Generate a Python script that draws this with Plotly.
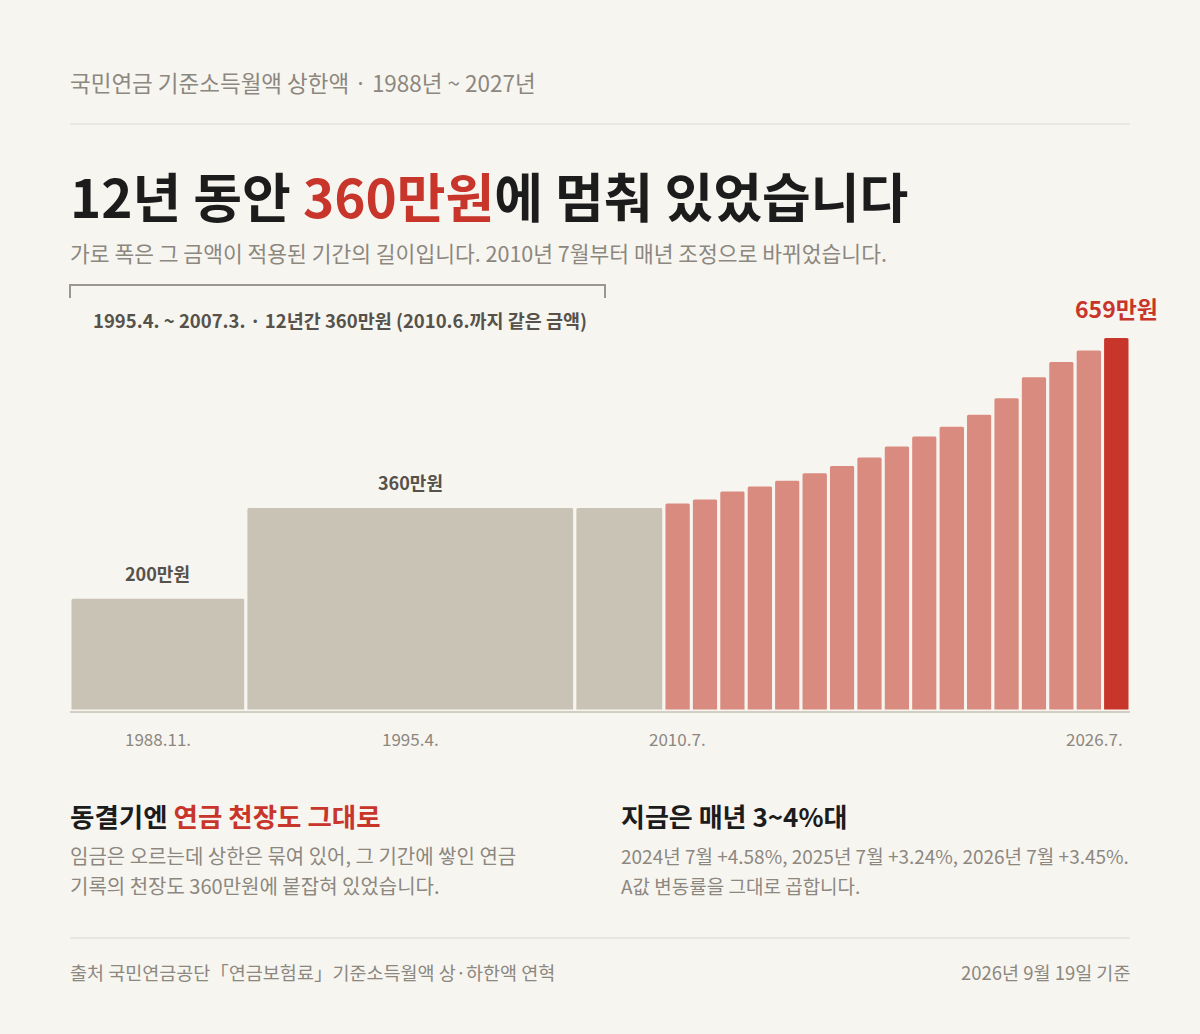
import plotly.graph_objects as go

# 기준소득월액 상한액 (만원) - 적용 시작 연.월
start_year = [1988, 1995, 2007, 2010, 2011, 2012, 2013, 2014, 2015, 2016,
              2017, 2018, 2019, 2020, 2021, 2022, 2023, 2024, 2025, 2026]
start_month = [11, 4, 4, 7, 7, 7, 7, 7, 7, 7, 7, 7, 7, 7, 7, 7, 7, 7, 7, 7]
end_year, end_month = 2027, 7
cap_values = [200, 360, 360, 368, 375, 389, 398, 408, 421, 434,
              449, 468, 486, 503, 524, 553, 590, 617, 637, 659]
era = ["frozen"] * 3 + ["annual"] * 16 + ["latest"]

tick_labels = ["1988.11.", "1995.4.", "2010.7.", "2026.7."]
tick_bars = [0, 1, 3, 19]
labelled_bars = [0, 1, 19]

BG = "#f7f5f0"
GRAY_BAR = "#c9c3b5"
RED_BAR = "#d98b7f"
RED_DARK = "#c8352b"
INK = "#1c1c1c"
MUTED = "#8c877f"
LABEL = "#56524b"
RULE = "#dcd8cf"
FONT = "Noto Sans CJK KR"

era_colors = {"frozen": GRAY_BAR, "annual": RED_BAR, "latest": RED_DARK}


def month_index(y, m):
    return (y - start_year[0]) * 12 + (m - start_month[0])


starts = [month_index(y, m) for y, m in zip(start_year, start_month)]
ends = starts[1:] + [month_index(end_year, end_month)]
widths = [e - s for s, e in zip(starts, ends)]
centers = [s + w / 2 for s, w in zip(starts, widths)]

# page geometry (pixels)
W, H = 1200, 1034
L, R = 70, 1130
TOP, BOT = 290, 711


def py(p):
    return (BOT - p) / (BOT - TOP)


def px(p):
    return (p - L) / (R - L)


fig = go.Figure(
    go.Bar(
        x=centers,
        y=cap_values,
        width=widths,
        marker=dict(
            color=[era_colors[e] for e in era],
            line=dict(color=BG, width=3),
            cornerradius=3,
        ),
        hovertemplate="%{y}만원<extra></extra>",
    )
)

ann = []


def text(x, y, s, size, color=MUTED, anchor="left", bold=False):
    ann.append(dict(
        x=x, y=y, xref="paper", yref="paper", text=f"<b>{s}</b>" if bold else s,
        showarrow=False, xanchor=anchor, yanchor="middle",
        xshift=-2 if anchor == "left" else 2,
        font=dict(family=FONT, size=size, color=color),
    ))


text(0, py(82), "국민연금 기준소득월액 상한액 · 1988년 ~ 2027년", 22.5)
text(0, py(195), f"12년 동안 <span style='color:{RED_DARK}'>360만원</span>에 멈춰 있었습니다",
     53, INK, bold=True)
text(0, py(253), "가로 폭은 그 금액이 적용된 기간의 길이입니다. 2010년 7월부터 매년 조정으로 바뀌었습니다.", 21.5)
text(px(93), py(320), "1995.4. ~ 2007.3. · 12년간 360만원 (2010.6.까지 같은 금액)", 18.5, LABEL, bold=True)

# bar value labels
for i in labelled_bars:
    last = i == len(cap_values) - 1
    ann.append(dict(
        x=centers[i], y=cap_values[i], xref="x", yref="y",
        text=f"<b>{cap_values[i]}만원</b>", showarrow=False,
        yanchor="bottom", yshift=10 if last else 9,
        font=dict(family=FONT, size=23 if last else 18, color=RED_DARK if last else LABEL),
    ))

# x labels
for lab, i in zip(tick_labels, tick_bars):
    last = i == len(cap_values) - 1
    ann.append(dict(
        x=ends[i] if last else centers[i], y=0, xref="x", yref="y",
        text=lab, showarrow=False, yanchor="top", yshift=-13,
        xanchor="right" if last else "center", xshift=-5 if last else 0,
        font=dict(family=FONT, size=17, color=MUTED),
    ))

# bottom notes
text(0, py(815), f"동결기엔 <span style='color:{RED_DARK}'>연금 천장도 그대로</span>", 26.5, INK, bold=True)
text(0, py(855), "임금은 오르는데 상한은 묶여 있어, 그 기간에 쌓인 연금", 20)
text(0, py(885), "기록의 천장도 360만원에 붙잡혀 있었습니다.", 20)
text(px(621), py(815), "지금은 매년 3~4%대", 26, INK, bold=True)
text(px(621), py(855), "2024년 7월 +4.58%, 2025년 7월 +3.24%, 2026년 7월 +3.45%.", 19)
text(px(621), py(885), "A값 변동률을 그대로 곱합니다.", 19)

# footer
text(0, py(972), "출처 국민연금공단「연금보험료」기준소득월액 상·하한액 연혁", 18.5)
text(1, py(972), "2026년 9월 19일 기준", 18.5, anchor="right")

shapes = [
    dict(type="line", xref="paper", yref="paper", x0=0, x1=1, y0=py(124), y1=py(124),
         line=dict(color=RULE, width=1)),
    dict(type="line", xref="paper", yref="paper", x0=0, x1=1, y0=py(938), y1=py(938),
         line=dict(color=RULE, width=1)),
    dict(type="path", xref="paper", yref="paper",
         path=f"M 0 {py(298)} L 0 {py(285)} L {px(605)} {py(285)} L {px(605)} {py(298)}",
         line=dict(color="#9c978e", width=2)),
]

fig.update_layout(
    width=W, height=H,
    margin=dict(l=L, r=W - R, t=TOP, b=H - BOT),
    paper_bgcolor=BG, plot_bgcolor=BG,
    showlegend=False,
    annotations=ann,
    shapes=shapes,
    font=dict(family=FONT),
    xaxis=dict(range=[0, ends[-1]], showgrid=False, zeroline=False, showticklabels=False,
               showline=True, linecolor="#d3cec4", linewidth=2, ticks=""),
    yaxis=dict(range=[0, 741], showgrid=False, zeroline=False, showticklabels=False),
)

fig.write_html(
    "out.html",
    config={"displayModeBar": False},
    post_script="document.body.style.margin='0';",
)
